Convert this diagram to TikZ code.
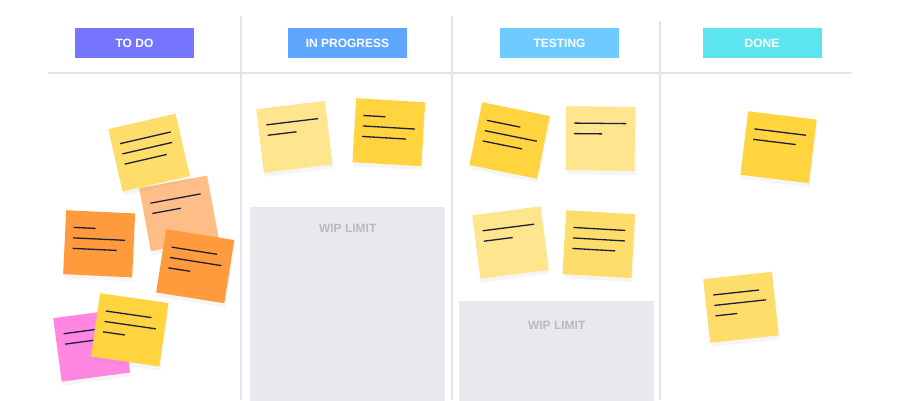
\documentclass[tikz,border=0pt]{standalone}
\usepackage{fontspec}
\setmainfont{Liberation Sans}
\usetikzlibrary{positioning, shadows}

\definecolor{todoC}{HTML}{7575FF}
\definecolor{progC}{HTML}{5FA6FF}
\definecolor{testC}{HTML}{6DCBFF}
\definecolor{doneC}{HTML}{5CE5EE}
\definecolor{gridC}{HTML}{E3E3EB}
\definecolor{wipC}{HTML}{E8E9EE}
\definecolor{wipT}{HTML}{B9B9C1}
\definecolor{inkC}{HTML}{1F1D3D}
\definecolor{yelA}{HTML}{FFD43E}
\definecolor{yelB}{HTML}{FFDD6B}
\definecolor{yelC}{HTML}{FFE58D}
\definecolor{orgC}{HTML}{FF9B3D}
\definecolor{pchC}{HTML}{FFBE87}
\definecolor{pnkC}{HTML}{FF87E2}

\begin{document}
\begin{tikzpicture}[x=1pt, y=-1pt,
    header/.style={fill=#1, minimum width=119pt, minimum height=30pt, inner sep=0pt,
      text=white, font=\fontsize{12}{14}\selectfont\bfseries},
    board/.style={draw=gridC, line width=1.3pt},
    wip/.style={fill=wipC, minimum width=195pt, minimum height=200pt, anchor=north west, inner sep=0pt},
    wiplabel/.style={text=wipT, inner sep=0pt, font=\fontsize{12}{14}\selectfont\bfseries},
    sticky/.style={fill=#1, minimum width=69pt, minimum height=64pt, anchor=north west, inner sep=0pt,
      drop shadow={opacity=0.08, shadow xshift=1pt, shadow yshift=-4pt}},
    ink/.style={draw=inkC, line width=1.3pt}]
  \fill[white] (0,0) rectangle (900,400);
  \useasboundingbox (0,0) rectangle (900,400);

  % board
  \draw[board] (48,73) -- (852,73);
  \draw[board] (241,16) -- (241,400);
  \draw[board] (452,16) -- (452,400);
  \draw[board] (660,21) -- (660,400);

  % column heads
  \node[header=todoC] (todo)    at (134.5,43) {TO DO};
  \node[header=progC] (inprog)  at (347.5,43) {IN PROGRESS};
  \node[header=testC] (testing) at (559.5,43) {TESTING};
  \node[header=doneC] (done)    at (762,43)   {DONE};

  % wip areas
  \node[wip] (wipProg) at (250,207) {};
  \node[wiplabel, below=17pt of wipProg.north] (wipProgText) {WIP LIMIT};
  \node[wip] (wipTest) at (459,301) {};
  \node[wiplabel, below=20pt of wipTest.north] (wipTestText) {WIP LIMIT};

  % sticky notes: name/x/y/angle/colour/line lengths
  \foreach \nm/\px/\py/\ang/\col/\lens in {
      todo1/139/188/10.5/pchC/{51,29},
      todo2/108/129/13/yelB/{52,51,43},
      todo3/66/210/-2.7/orgC/{22,52,44},
      todo4/166/229/-9/orgC/{46,52,22},
      todo5/53/318/7.6/pnkC/{45,40},
      todo6/100/293/-8.2/yelA/{46,52,22},
      prog1/256/109/6.9/yelC/{52,29},
      prog2/356/98/-3.4/yelA/{22,52,44},
      test1/482/102/-11.5/yelA/{34,53,40},
      test2/566/106/-0.6/yelC/{52,28},
      test3/472/215/7.3/yelC/{52,29},
      test4/566/210/-3.3/yelB/{52,52,43},
      done1/748/111/-7/yelA/{52,43},
      done2/703/279/6.2/yelB/{46,52,22}}{
    \node[sticky=\col, rotate=\ang] (\nm) at (\px,\py) {};
    \begin{scope}[shift={(\nm.north west)}, rotate=\ang]
      \foreach \len [count=\i] in \lens
        \draw[ink] (8.5,{6.5+10.5*\i}) -- ({8.5+\len},{6.5+10.5*\i});
    \end{scope}
  }
\end{tikzpicture}
\end{document}
